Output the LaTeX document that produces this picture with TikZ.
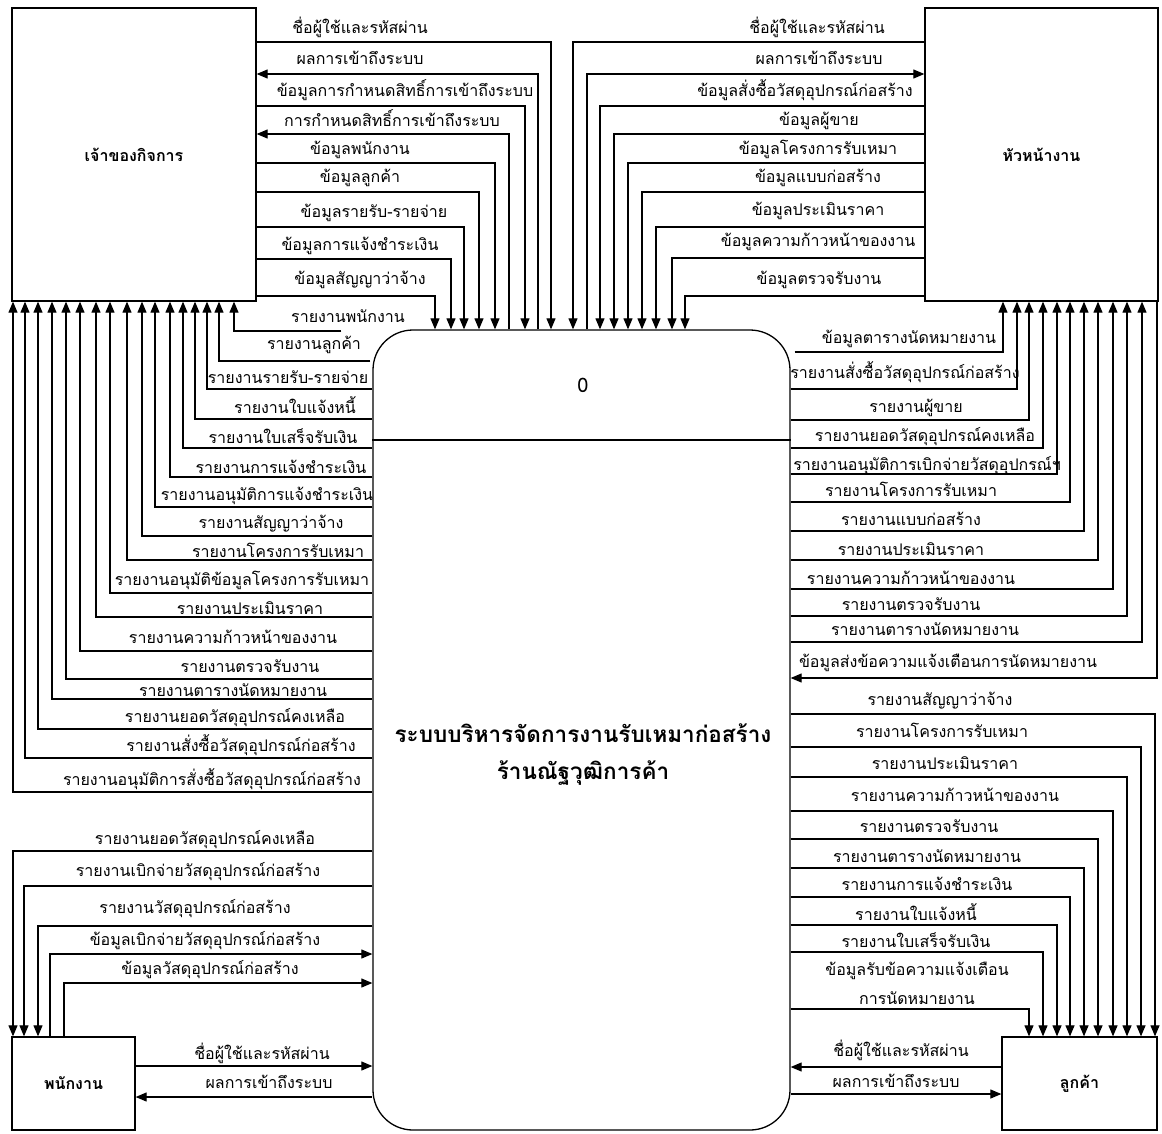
\documentclass[tikz,border=0pt]{standalone}
\usepackage{fontspec}
\setmainfont[Script=Thai]{Loma}
\usetikzlibrary{arrows.meta}

\tikzset{
  box/.style={draw, line width=1.3pt, inner sep=0pt, font=\fontsize{16}{19}\selectfont\bfseries},
  proc/.style={draw, line width=1.3pt, rounded corners=40pt, inner sep=0pt,
    minimum width=417pt, minimum height=800pt},
  flow/.style={line width=1.1pt, -{Triangle[length=11pt,width=9pt]}},
  lbl/.style={anchor=mid, inner sep=0pt, yshift=-4pt}
}

\begin{document}
\begin{tikzpicture}[x=1pt, y=-1pt, font=\fontsize{16}{19}\selectfont]

\useasboundingbox (0,0) rectangle (1162,1133);
\fill[white] (0,0) rectangle (1162,1133);

% external entities and the process
\node[box, minimum width=244pt, minimum height=293pt] (owner) at (134,154.5) {เจ้าของกิจการ};
\node[box, minimum width=233pt, minimum height=293pt] (chief) at (1041.5,154.5) {หัวหน้างาน};
\node[box, minimum width=123pt, minimum height=93pt] (staff) at (73.5,1083.5) {พนักงาน};
\node[box, minimum width=155pt, minimum height=93pt] (client) at (1079.5,1083.5) {ลูกค้า};
\node[proc] (proc) at (581.5,730) {};
\draw[line width=1.1pt] (0,440 -| proc.west) -- (0,440 -| proc.east);
\node[font=\fontsize{20}{24}\selectfont] (procno) at (583,385) {0};
\node[font=\fontsize{22.5}{37}\selectfont\bfseries, align=center] (procname) at (583,755)
  {ระบบบริหารจัดการงานรับเหมาก่อสร้าง\\ร้านณัฐวุฒิการค้า};

% owner -> process
\foreach \y/\x/\lx/\ly/\t [count=\i] in {
  42/551/360/27/ชื่อผู้ใช้และรหัสผ่าน,
  106/525/405/90/ข้อมูลการกำหนดสิทธิ์การเข้าถึงระบบ,
  163/495/360/148/ข้อมูลพนักงาน,
  192/479/360/176/ข้อมูลลูกค้า,
  227/464/374/211/ข้อมูลรายรับ-รายจ่าย,
  259/451/360/244/ข้อมูลการแจ้งชำระเงิน,
  296/435/360/278/ข้อมูลสัญญาว่าจ้าง}{
  \draw[flow] (0,\y -| owner.east) -| (\x,0 |- proc.north);
  \node[lbl] (oin\i) at (\lx,\ly) {\t};
}
% process -> owner (top)
\foreach \y/\x/\lx/\ly/\t [count=\i] in {
  74/538/360/58/ผลการเข้าถึงระบบ,
  134/509/392/120/การกำหนดสิทธิ์การเข้าถึงระบบ}{
  \draw[flow] (\x,0 |- proc.north) |- (0,\y -| owner.east);
  \node[lbl] (oout\i) at (\lx,\ly) {\t};
}
% process -> owner (reports)
\foreach \y/\x/\s/\lx/\ly/\t [count=\i] in {
  331/234/31/348/316/รายงานพนักงาน,
  361/219/2/314/343/รายงานลูกค้า,
  389/207/0/288/377/รายงานรายรับ-รายจ่าย,
  419/195/0/295/407/รายงานใบแจ้งหนี้,
  448/183/0/283/437/รายงานใบเสร็จรับเงิน,
  477/170/0/281/467/รายงานการแจ้งชำระเงิน,
  507/155/0/267/494/รายงานอนุมัติการแจ้งชำระเงิน,
  536/142/0/271/522/รายงานสัญญาว่าจ้าง,
  560/127/0/278/551/รายงานโครงการรับเหมา,
  593/110/0/242/579/รายงานอนุมัติข้อมูลโครงการรับเหมา,
  617/96/0/250/608/รายงานประเมินราคา,
  651/80/0/233/637/รายงานความก้าวหน้าของงาน,
  679/66/0/250/666/รายงานตรวจรับงาน,
  699/52/0/233/690/รายงานตารางนัดหมายงาน,
  729/38/0/235/716/รายงานยอดวัสดุอุปกรณ์คงเหลือ,
  758/25/0/241/745/รายงานสั่งซื้อวัสดุอุปกรณ์ก่อสร้าง,
  792/13/0/212/779/รายงานอนุมัติการสั่งซื้อวัสดุอุปกรณ์ก่อสร้าง}{
  \draw[flow, shorten <=\s pt] (0,\y -| proc.west) -| (\x,0 |- owner.south);
  \node[lbl] (orep\i) at (\lx,\ly) {\t};
}

% chief -> process
\foreach \y/\x/\lx/\ly/\t [count=\i] in {
  42/573/817/27/ชื่อผู้ใช้และรหัสผ่าน,
  106/600/805/90/ข้อมูลสั่งซื้อวัสดุอุปกรณ์ก่อสร้าง,
  134/614/819/119/ข้อมูลผู้ขาย,
  163/628/818/148/ข้อมูลโครงการรับเหมา,
  192/642/818/176/ข้อมูลแบบก่อสร้าง,
  227/656/818/209/ข้อมูลประเมินราคา,
  258/672/818/240/ข้อมูลความก้าวหน้าของงาน,
  296/685/819/278/ข้อมูลตรวจรับงาน}{
  \draw[flow] (0,\y -| chief.west) -| (\x,0 |- proc.north);
  \node[lbl] (cin\i) at (\lx,\ly) {\t};
}
\draw[flow] (587,0 |- proc.north) |- (0,74 -| chief.west);
\node[lbl] (cout1) at (819,58) {ผลการเข้าถึงระบบ};
% process -> chief (reports)
\foreach \y/\x/\s/\lx/\ly/\t [count=\i] in {
  352/1003/4/909/337/ข้อมูลตารางนัดหมายงาน,
  389/1017/0/905/372/รายงานสั่งซื้อวัสดุอุปกรณ์ก่อสร้าง,
  420/1029/0/916/406/รายงานผู้ขาย,
  448/1043/0/925/435/รายงานยอดวัสดุอุปกรณ์คงเหลือ,
  474/1057/0/927/464/รายงานอนุมัติการเบิกจ่ายวัสดุอุปกรณ์ฯ,
  502/1070/0/911/490/รายงานโครงการรับเหมา,
  531/1084/0/911/519/รายงานแบบก่อสร้าง,
  560/1098/0/911/549/รายงานประเมินราคา,
  589/1113/0/911/578/รายงานความก้าวหน้าของงาน,
  616/1127/0/911/604/รายงานตรวจรับงาน,
  642/1142/0/925/629/รายงานตารางนัดหมายงาน}{
  \draw[flow, shorten <=\s pt] (0,\y -| proc.east) -| (\x,0 |- chief.south);
  \node[lbl] (crep\i) at (\lx,\ly) {\t};
}
\draw[flow] (1157,0 |- chief.south) |- (0,678 -| proc.east);
\node[lbl] (calert) at (948,661) {ข้อมูลส่งข้อความแจ้งเตือนการนัดหมายงาน};

% process -> client
\foreach \y/\x/\lx/\ly/\t [count=\i] in {
  714/1155/940/699/รายงานสัญญาว่าจ้าง,
  747/1141/942/731/รายงานโครงการรับเหมา,
  777/1127/945/763/รายงานประเมินราคา,
  811/1113/955/795/รายงานความก้าวหน้าของงาน,
  839/1098/929/826/รายงานตรวจรับงาน,
  868/1084/927/856/รายงานตารางนัดหมายงาน,
  897/1070/927/884/รายงานการแจ้งชำระเงิน,
  925/1057/916/914/รายงานใบแจ้งหนี้,
  952/1043/916/941/รายงานใบเสร็จรับเงิน,
  1009/1029/917/969/ข้อมูลรับข้อความแจ้งเตือน}{
  \draw[flow] (0,\y -| proc.east) -| (\x,0 |- client.north);
  \node[lbl] (krep\i) at (\lx,\ly) {\t};
}
\node[lbl] (krep10b) at (917,998) {การนัดหมายงาน};
\draw[flow] (0,1067 -| client.west) -- (0,1067 -| proc.east);
\node[lbl] (kin1) at (901,1050) {ชื่อผู้ใช้และรหัสผ่าน};
\draw[flow] (0,1094 -| proc.east) -- (0,1094 -| client.west);
\node[lbl] (kout1) at (896,1081) {ผลการเข้าถึงระบบ};

% process <-> staff
\foreach \y/\x/\lx/\ly/\t [count=\i] in {
  851/13/205/838/รายงานยอดวัสดุอุปกรณ์คงเหลือ,
  886/24/198/870/รายงานเบิกจ่ายวัสดุอุปกรณ์ก่อสร้าง,
  926/38/195/907/รายงานวัสดุอุปกรณ์ก่อสร้าง}{
  \draw[flow] (0,\y -| proc.west) -| (\x,0 |- staff.north);
  \node[lbl] (srep\i) at (\lx,\ly) {\t};
}
\foreach \y/\x/\lx/\ly/\t [count=\i] in {
  954/50/205/939/ข้อมูลเบิกจ่ายวัสดุอุปกรณ์ก่อสร้าง,
  983/64/210/968/ข้อมูลวัสดุอุปกรณ์ก่อสร้าง}{
  \draw[flow] (\x,0 |- staff.north) |- (0,\y -| proc.west);
  \node[lbl] (sin\i) at (\lx,\ly) {\t};
}
\draw[flow] (0,1066 -| staff.east) -- (0,1066 -| proc.west);
\node[lbl] (sin3) at (262,1053) {ชื่อผู้ใช้และรหัสผ่าน};
\draw[flow] (0,1097 -| proc.west) -- (0,1097 -| staff.east);
\node[lbl] (sout1) at (269,1082) {ผลการเข้าถึงระบบ};

\end{tikzpicture}
\end{document}
